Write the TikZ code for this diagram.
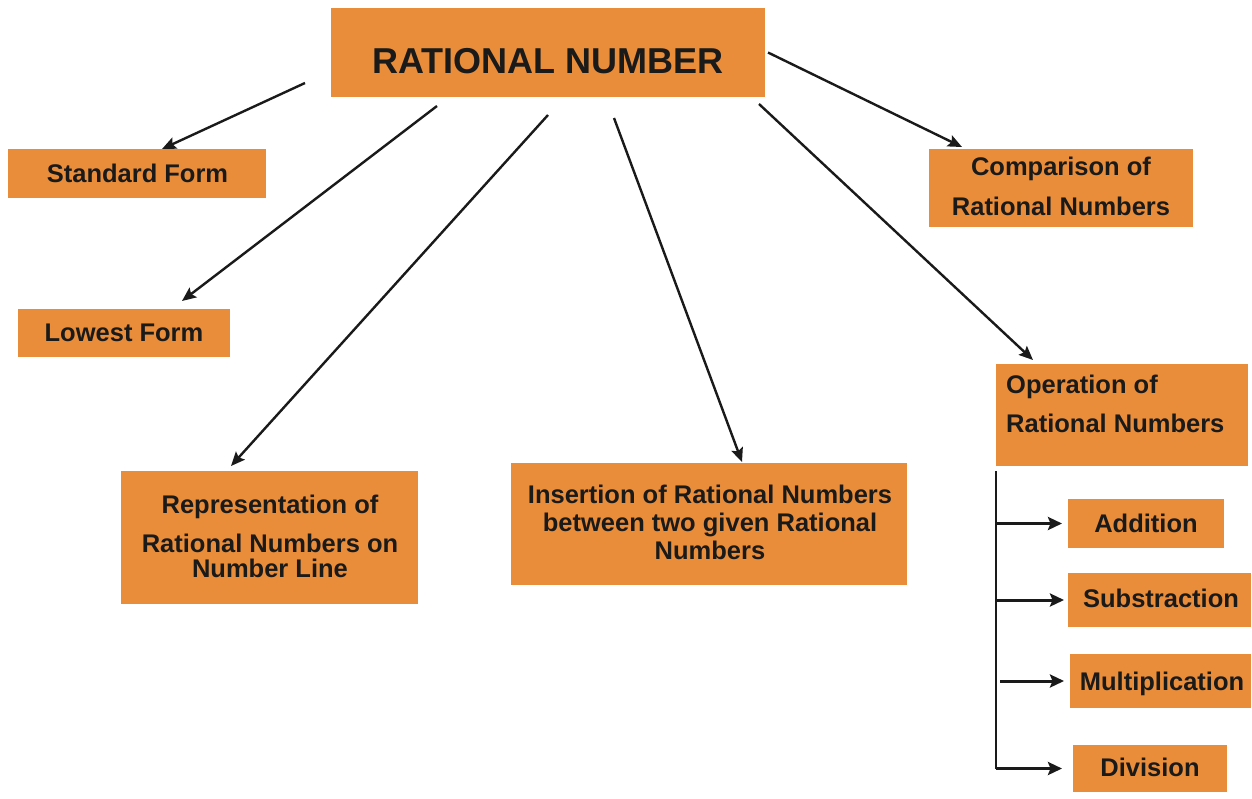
\documentclass[tikz,border=0pt]{standalone}
\usepackage{fontspec}
\setmainfont{Liberation Sans}
\usetikzlibrary{arrows.meta}
\definecolor{boxorange}{HTML}{E98D3A}
\definecolor{ink}{HTML}{1A1A1A}
\begin{document}
\begin{tikzpicture}[x=1pt,y=-1pt,
  box/.style={fill=boxorange, draw=none, inner sep=0pt, outer sep=0pt, anchor=north west},
  txt/.style={font=\bfseries\fontsize{25.5}{30}\selectfont, text=ink, inner sep=0pt, anchor=base},
  bigtxt/.style={font=\bfseries\fontsize{36}{40}\selectfont, text=ink, inner sep=0pt, anchor=base},
  darrow/.style={draw=ink, line width=2.4pt, -{Stealth[length=14pt,width=12pt,inset=2.5pt]}},
  harrow/.style={draw=ink, line width=3pt, -{Stealth[length=14pt,width=13pt,inset=2.5pt]}},
  trunkline/.style={draw=ink, line width=2.8pt}]
\fill[white] (0,0) rectangle (1252,798);
\useasboundingbox (0,0) rectangle (1252,798);

% boxes
\node[box, minimum width=434pt, minimum height=89pt] (root) at (331,8) {};
\node[box, minimum width=258pt, minimum height=49pt] (std) at (8,149) {};
\node[box, minimum width=212pt, minimum height=48pt] (low) at (18,309) {};
\node[box, minimum width=297pt, minimum height=133pt] (rep) at (121,471) {};
\node[box, minimum width=396pt, minimum height=122pt] (ins) at (511,463) {};
\node[box, minimum width=264pt, minimum height=78pt] (comp) at (929,149) {};
\node[box, minimum width=252pt, minimum height=102pt] (op) at (996,364) {};
\node[box, minimum width=156pt, minimum height=49pt] (add) at (1068,499) {};
\node[box, minimum width=183pt, minimum height=54pt] (sub) at (1068,573) {};
\node[box, minimum width=181pt, minimum height=54pt] (mul) at (1070,654) {};
\node[box, minimum width=154pt, minimum height=47pt] (div) at (1073,745) {};

% texts
\node[bigtxt] (rootT) at (548,73) {RATIONAL NUMBER};
\node[txt] (stdT) at (137.5,182) {Standard Form};
\node[txt] (lowT) at (124,341) {Lowest Form};
\node[txt] (compT1) at (1061,175) {Comparison of};
\node[txt] (compT2) at (1061,215) {Rational Numbers};
\node[txt, anchor=base west] (opT1) at (1006,393) {Operation of};
\node[txt, anchor=base west] (opT2) at (1006,432) {Rational Numbers};
\node[txt] (repT1) at (270,513) {Representation of};
\node[txt] (repT2) at (270,552) {Rational Numbers on};
\node[txt] (repT3) at (270,577) {Number Line};
\node[txt] (insT1) at (710,503) {Insertion of Rational Numbers};
\node[txt] (insT2) at (710,531) {between two given Rational};
\node[txt] (insT3) at (710,559) {Numbers};
\node[txt] (addT) at (1146,532) {Addition};
\node[txt] (subT) at (1161,607) {Substraction};
\node[txt] (mulT) at (1162,690) {Multiplication};
\node[txt] (divT) at (1150,776) {Division};

% connector start points near the root box
\coordinate (s1) at ([xshift=-26pt,yshift=-30.5pt]root.west);
\coordinate (s2) at ([xshift=-111pt,yshift=-9pt]root.south);
\coordinate (s3) at ([yshift=-18pt]root.south);
\coordinate (s4) at ([xshift=66pt,yshift=-21pt]root.south);
\coordinate (s5) at ([xshift=211pt,yshift=-7pt]root.south);
\coordinate (s6) at ([xshift=3pt]root.east);

\draw[darrow] (s1) -- ([xshift=25pt]std.north);
\draw[darrow] (s2) -- ([xshift=58pt,yshift=8pt]low.north);
\draw[darrow] (s3) -- ([xshift=-38.5pt,yshift=5pt]rep.north);
\draw[darrow] (s4) -- ([xshift=33pt,yshift=1pt]ins.north);
\draw[darrow] (s5) -- ([xshift=-89pt,yshift=4pt]op.north);
\draw[darrow] (s6) -- ([xshift=-99pt,yshift=2pt]comp.north);

% operation tree
\coordinate (trunk) at (996,471);
\coordinate (mtrunk) at (1000,471);
\draw[trunkline] (trunk) -- (trunk |- div.west);
\draw[harrow, shorten >=6pt] (trunk |- add.west) -- (add.west);
\draw[harrow, shorten >=4pt] (trunk |- sub.west) -- (sub.west);
\draw[harrow, shorten >=6pt] (mtrunk |- mul.west) -- (mul.west);
\draw[harrow, shorten >=11pt] (trunk |- div.west) -- (div.west);
\end{tikzpicture}
\end{document}
